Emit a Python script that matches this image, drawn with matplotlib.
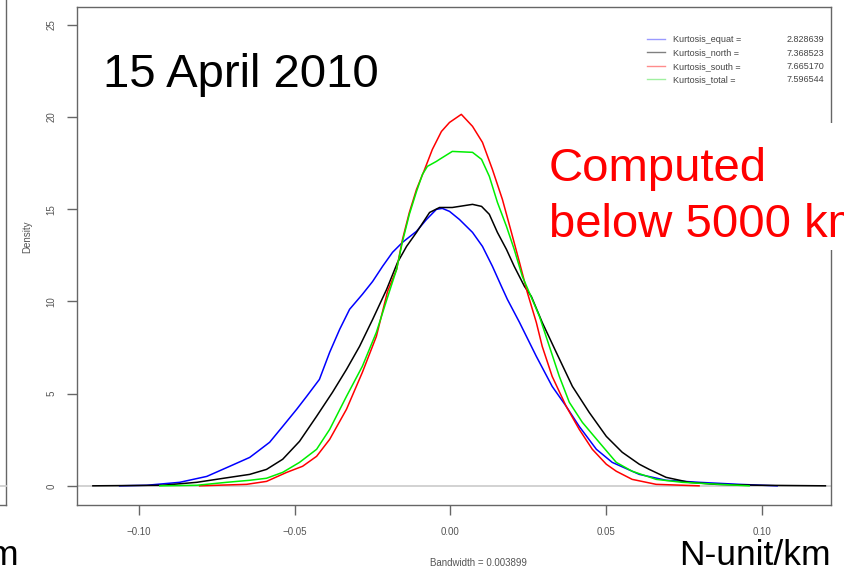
import matplotlib

matplotlib.use("Agg")
import matplotlib.pyplot as plt
from matplotlib.lines import Line2D
from matplotlib.patches import Rectangle

W, H = 844, 572

# kernel density of N-unit/km, 15 April 2010
equat_x = [-0.1063, -0.0976, -0.0870, -0.0783, -0.0709, -0.0645, -0.0623, -0.0581, -0.0539,
           -0.0494, -0.0462, -0.0421, -0.0388, -0.0356, -0.0324, -0.0283, -0.0250, -0.0218,
           -0.0186, -0.0154, -0.0109, -0.0077, -0.0045, -0.0026, -0.0003, 0.0029, 0.0071,
           0.0103, 0.0135, 0.0164, 0.0183, 0.0222, 0.0276, 0.0327, 0.0372, 0.0414, 0.0469,
           0.0520, 0.0607, 0.0693, 0.0799, 0.0928, 0.1050]
equat_y = [0.0, 0.03, 0.19, 0.51, 1.06, 1.54, 1.82, 2.36, 3.22,
           4.15, 4.85, 5.77, 7.24, 8.48, 9.57, 10.38, 11.08, 11.90,
           12.66, 13.20, 13.80, 14.44, 14.99, 15.04, 14.88, 14.44, 13.74,
           12.98, 11.90, 10.81, 10.11, 8.86, 7.02, 5.39, 4.31, 3.22, 1.98,
           1.27, 0.62, 0.30, 0.19, 0.08, 0.0]

north_x = [-0.1149, -0.0925, -0.0815, -0.0709, -0.0645, -0.0591, -0.0539, -0.0485, -0.0430,
           -0.0379, -0.0334, -0.0292, -0.0250, -0.0205, -0.0170, -0.0141, -0.0109, -0.0067,
           -0.0035, 0.0006, 0.0071, 0.0100, 0.0125, 0.0151, 0.0180, 0.0205, 0.0238, 0.0260,
           0.0295, 0.0340, 0.0392, 0.0446, 0.0501, 0.0552, 0.0607, 0.0639, 0.0693, 0.0767,
           0.0854, 0.0992, 0.1205]
north_y = [0.0, 0.03, 0.19, 0.46, 0.62, 0.89, 1.44, 2.41, 3.77,
           5.07, 6.31, 7.56, 9.02, 10.65, 12.11, 12.98, 13.74, 14.82,
           15.09, 15.09, 15.26, 15.15, 14.72, 13.74, 12.82, 11.90, 10.81, 10.27,
           8.86, 7.24, 5.39, 3.98, 2.68, 1.82, 1.17, 0.89, 0.46, 0.19,
           0.08, 0.03, 0.0]

south_x = [-0.0806, -0.0655, -0.0591, -0.0526, -0.0475, -0.0430, -0.0388, -0.0334, -0.0283,
           -0.0238, -0.0202, -0.0173, -0.0154, -0.0132, -0.0109, -0.0083, -0.0058, -0.0029,
           -0.0003, 0.0035, 0.0071, 0.0103, 0.0135, 0.0167, 0.0196, 0.0222, 0.0247, 0.0276,
           0.0295, 0.0327, 0.0372, 0.0414, 0.0456, 0.0501, 0.0533, 0.0584, 0.0661, 0.0799]
south_y = [0.0, 0.08, 0.24, 0.73, 1.06, 1.60, 2.52, 4.15, 6.15,
           8.10, 10.54, 11.73, 13.36, 14.82, 16.07, 17.15, 18.24, 19.21,
           19.70, 20.14, 19.49, 18.62, 17.15, 15.53, 13.74, 12.11, 10.49, 8.86,
           7.56, 5.93, 4.31, 3.06, 1.98, 1.17, 0.79, 0.35, 0.08, 0.0]

total_x = [-0.0934, -0.0815, -0.0719, -0.0645, -0.0591, -0.0539, -0.0485, -0.0430, -0.0388,
           -0.0334, -0.0283, -0.0238, -0.0196, -0.0173, -0.0154, -0.0132, -0.0109, -0.0090,
           -0.0074, -0.0045, -0.0035, 0.0006, 0.0071, 0.0100, 0.0125, 0.0151, 0.0180, 0.0205,
           0.0231, 0.0260, 0.0286, 0.0318, 0.0350, 0.0382, 0.0424, 0.0478, 0.0533, 0.0584,
           0.0661, 0.0745, 0.0864, 0.0960]
total_y = [0.0, 0.03, 0.19, 0.30, 0.41, 0.73, 1.27, 1.98, 3.06,
           4.85, 6.48, 8.32, 10.54, 11.73, 13.25, 14.72, 15.96, 16.88,
           17.32, 17.59, 17.70, 18.13, 18.08, 17.70, 16.78, 15.37, 14.07, 12.82,
           11.36, 10.22, 9.19, 7.56, 5.93, 4.53, 3.44, 2.36, 1.27, 0.79,
           0.35, 0.19, 0.08, 0.0]

series_names = ["Kurtosis_equat =", "Kurtosis_north =", "Kurtosis_south =", "Kurtosis_total ="]
kurtosis_values = ["2.828639", "7.368523", "7.665170", "7.596544"]
series_colors = ["#0000ff", "#000000", "#ff0000", "#00ee00"]
legend_colors = ["#9a9aff", "#808080", "#ff8c8c", "#a0f0a0"]

x_ticks = [-0.10, -0.05, 0.00, 0.05, 0.10]
y_ticks = [0, 5, 10, 15, 20, 25]
bandwidth = 0.003899


def fx(px):
    return px / W


def fy(py):
    return 1 - py / H


plt.rcParams["font.family"] = ["Liberation Sans", "DejaVu Sans"]

fig = plt.figure(figsize=(W / 100, H / 100), dpi=100)
ax = fig.add_axes([fx(77), fy(505), fx(831) - fx(77), fy(7) - fy(505)])

ax.axhline(0, color="#cfcfcf", lw=1.3, zorder=1)
curves = [(equat_x, equat_y), (north_x, north_y), (south_x, south_y), (total_x, total_y)]
for (xs, ys), col in zip(curves, series_colors):
    ax.plot(xs, ys, color=col, lw=1.1, zorder=2)

ax.set_xlim(-0.120, 0.1223)
ax.set_ylim(-1.04, 25.96)
ax.set_xticks(x_ticks)
ax.set_xticklabels([f"{v:.2f}".replace("-", "\u2212") for v in x_ticks])
ax.set_yticks(y_ticks)
ax.set_yticklabels([str(v) for v in y_ticks], rotation=90, va="center")
ax.tick_params(axis="both", direction="out", length=7, width=1, color="#666666",
               labelsize=7, labelcolor="#555555")
ax.tick_params(axis="x", pad=9)
ax.tick_params(axis="y", pad=8)
for sp in ax.spines.values():
    sp.set_color("#666666")
    sp.set_linewidth(1)

# legend
handles = [Line2D([], [], color=c, lw=1) for c in legend_colors]
ax.legend(handles, series_names, loc="upper left", bbox_to_anchor=(fx(647), fy(35)),
          bbox_transform=fig.transFigure, frameon=False, fontsize=6.5,
          handlelength=2.0, handletextpad=0.85, labelspacing=0.5, borderpad=0,
          borderaxespad=0, labelcolor="#444444")
for i, val in enumerate(kurtosis_values):
    fig.text(fx(824), fy(40 + i * 13.3), val, fontsize=6.5, color="#444444",
             ha="right", va="center")

fig.text(fx(27), fy(237), "Density", rotation=90, fontsize=7, color="#555555",
         ha="center", va="center")
fig.text(fx(478), fy(563), f"Bandwidth = {bandwidth}", fontsize=7, color="#555555",
         ha="center", va="center")

# slide annotations
fig.text(fx(103), fy(87), "15 April 2010", fontsize=34, color="black", ha="left", va="baseline")
fig.patches.append(Rectangle((fx(540), fy(250)), fx(844) - fx(540), fy(123) - fy(250),
                             transform=fig.transFigure, facecolor="white", edgecolor="none",
                             zorder=3))
fig.text(fx(549), fy(181), "Computed", fontsize=34, color="red", ha="left", va="baseline",
         zorder=4)
fig.text(fx(549), fy(237), "below 5000 km", fontsize=34, color="red", ha="left",
         va="baseline", zorder=4)
fig.text(fx(831), fy(565), "N-unit/km", fontsize=25.5, color="black", ha="right",
         va="baseline")

# edge of the neighbouring panel
fig.lines.append(Line2D([fx(6), fx(6)], [fy(0), fy(505)], transform=fig.transFigure,
                        color="#666666", lw=1))
fig.lines.append(Line2D([fx(0), fx(6)], [fy(505), fy(505)], transform=fig.transFigure,
                        color="#666666", lw=1))
fig.lines.append(Line2D([fx(0), fx(6)], [fy(486), fy(486)], transform=fig.transFigure,
                        color="#cfcfcf", lw=1.3))
fig.text(fx(19), fy(565), "N-unit/km", fontsize=25.5, color="black", ha="right",
         va="baseline")

fig.savefig("out.png", dpi=100)
